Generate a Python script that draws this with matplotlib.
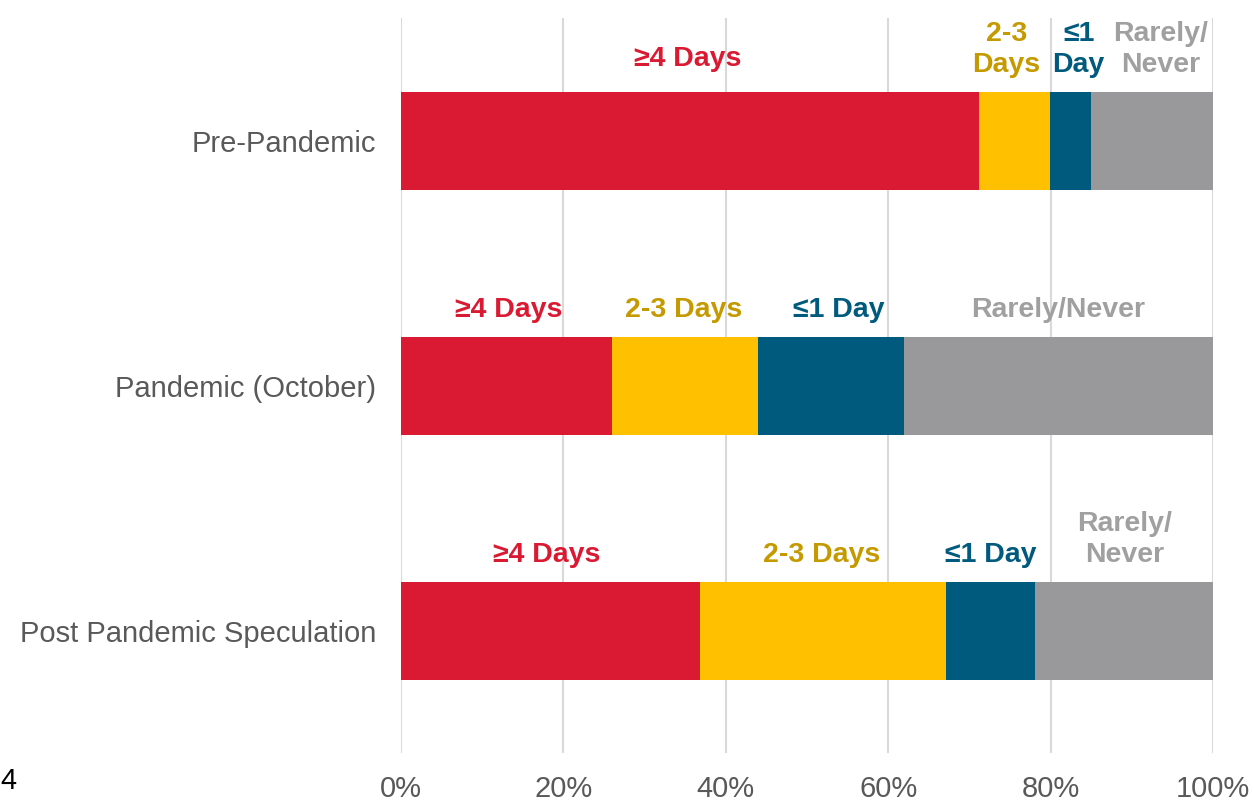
import numpy as np
import matplotlib.pyplot as plt

plt.rcParams['font.family'] = ['Liberation Sans', 'DejaVu Sans']

categories = ['Pre-Pandemic', 'Pandemic (October)', 'Post Pandemic Speculation']
segments = ['≥4 Days', '2-3 Days', '≤1 Day', 'Rarely/Never']
share_4plus = [71.2, 26.0, 36.8]
share_2to3 = [8.7, 18.0, 30.3]
share_1 = [5.1, 17.9, 11.0]
share_rarely = [15.0, 38.1, 21.9]
ticks = [0, 20, 40, 60, 80, 100]
tick_labels = ['0%', '20%', '40%', '60%', '80%', '100%']

# segment labels, some wrapped where the piece is narrow
seg_text = [
    ['≥4 Days', '2-3\nDays', '≤1\nDay', 'Rarely/\nNever'],
    ['≥4 Days', '2-3 Days', '≤1 Day', 'Rarely/Never'],
    ['≥4 Days', '2-3 Days', '≤1 Day', 'Rarely/\nNever'],
]
# small manual nudges of the labels (x in %, y in bar units)
nudge_x = [[-0.3, -1.0, 1.0, 1.0], [0.2, -0.2, 1.0, 0.0], [-0.5, -0.2, 0.0, 0.1]]
nudge_y = [[0.025, 0.0, 0.0, 0.0], [0.0, 0.0, 0.0, 0.0], [0.0, 0.0, 0.0, 0.0]]

bar_colors = ['#DA1A32', '#FFC000', '#005A7D', '#99999B']
text_colors = ['#DA1A32', '#C49A00', '#005A7D', '#A0A0A0']

values = np.array([share_4plus, share_2to3, share_1, share_rarely])

fig = plt.figure(figsize=(12.54, 8.01), dpi=100)
ax = fig.add_axes([0.3198, 0.0599, 0.6475, 0.9176])

y = np.arange(len(categories))
left = np.zeros(len(categories))
for i in range(len(segments)):
    ax.barh(y, values[i], left=left, height=0.4, color=bar_colors[i], zorder=2)
    for j in range(len(categories)):
        cx = left[j] + values[i][j] / 2 + nudge_x[j][i]
        ax.text(cx, y[j] - 0.255 - nudge_y[j][i], seg_text[j][i], ha='center', va='bottom',
                color=text_colors[i], fontsize=20.5, fontweight='bold',
                linespacing=1.27, zorder=3)
    left += values[i]

ax.set_xlim(0, 100)
ax.set_ylim(2.5, -0.5)
ax.set_xticks(ticks)
ax.set_xticklabels(tick_labels)
ax.set_yticks(y)
ax.set_yticklabels(categories)
ax.tick_params(axis='both', length=0, labelsize=21, labelcolor='#595959')
ax.tick_params(axis='x', pad=16)
ax.tick_params(axis='y', pad=18)
ax.grid(axis='x', color='#D9D9D9', linewidth=1.5, zorder=0)
ax.set_axisbelow(True)
for s in ax.spines.values():
    s.set_visible(False)

fig.text(0.0, 0.025, '4', fontsize=21, color='black', ha='left', va='center')

fig.savefig('out.png', dpi=100)
